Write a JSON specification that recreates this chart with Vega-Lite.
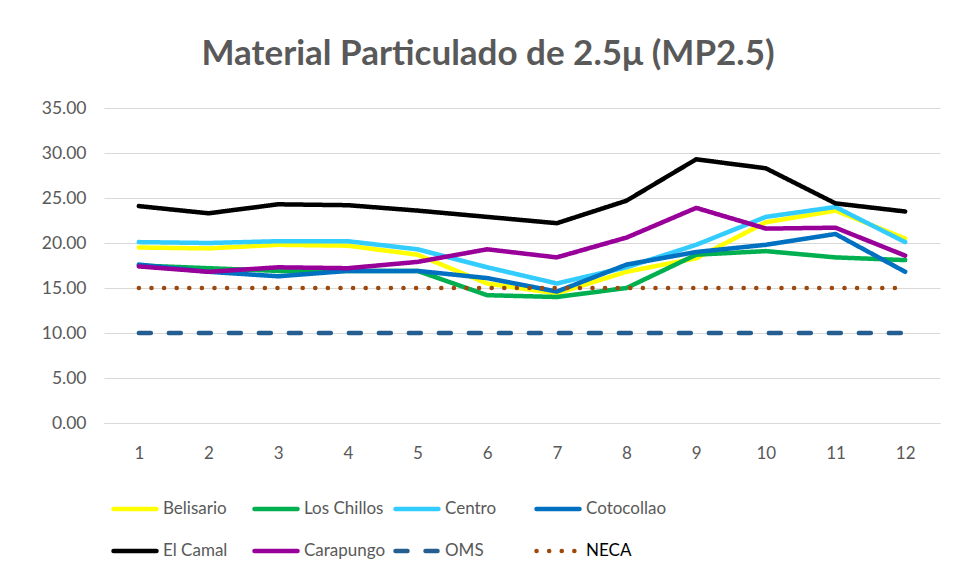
{
  "$schema": "https://vega.github.io/schema/vega-lite/v6.json",
  "autosize": {"type": "none"},
  "width": 836,
  "height": 315,
  "padding": {"left": 104, "top": 108, "right": 18, "bottom": 158},
  "background": "white",
  "title": {
    "text": "Material Particulado de 2.5μ  (MP2.5)",
    "font": "Lato",
    "fontSize": 35,
    "fontWeight": "bold",
    "color": "#595959",
    "anchor": "middle",
    "offset": 27,
    "dx": -34
  },
  "config": {"view": {"stroke": null}},
  "data": {
    "values": [
      {"mes": 1, "estacion": "Belisario", "valor": 19.5}, {"mes": 2, "estacion": "Belisario", "valor": 19.4}, {"mes": 3, "estacion": "Belisario", "valor": 19.8}, {"mes": 4, "estacion": "Belisario", "valor": 19.7}, {"mes": 5, "estacion": "Belisario", "valor": 18.7}, {"mes": 6, "estacion": "Belisario", "valor": 15.5}, {"mes": 7, "estacion": "Belisario", "valor": 14.4}, {"mes": 8, "estacion": "Belisario", "valor": 16.8}, {"mes": 9, "estacion": "Belisario", "valor": 18.3}, {"mes": 10, "estacion": "Belisario", "valor": 22.3}, {"mes": 11, "estacion": "Belisario", "valor": 23.6}, {"mes": 12, "estacion": "Belisario", "valor": 20.5},
      {"mes": 1, "estacion": "Los Chillos", "valor": 17.5}, {"mes": 2, "estacion": "Los Chillos", "valor": 17.2}, {"mes": 3, "estacion": "Los Chillos", "valor": 16.9}, {"mes": 4, "estacion": "Los Chillos", "valor": 16.9}, {"mes": 5, "estacion": "Los Chillos", "valor": 16.9}, {"mes": 6, "estacion": "Los Chillos", "valor": 14.2}, {"mes": 7, "estacion": "Los Chillos", "valor": 14.0}, {"mes": 8, "estacion": "Los Chillos", "valor": 15.0}, {"mes": 9, "estacion": "Los Chillos", "valor": 18.7}, {"mes": 10, "estacion": "Los Chillos", "valor": 19.1}, {"mes": 11, "estacion": "Los Chillos", "valor": 18.4}, {"mes": 12, "estacion": "Los Chillos", "valor": 18.1},
      {"mes": 1, "estacion": "Centro", "valor": 20.1}, {"mes": 2, "estacion": "Centro", "valor": 20.0}, {"mes": 3, "estacion": "Centro", "valor": 20.2}, {"mes": 4, "estacion": "Centro", "valor": 20.2}, {"mes": 5, "estacion": "Centro", "valor": 19.3}, {"mes": 6, "estacion": "Centro", "valor": 17.3}, {"mes": 7, "estacion": "Centro", "valor": 15.5}, {"mes": 8, "estacion": "Centro", "valor": 17.3}, {"mes": 9, "estacion": "Centro", "valor": 19.8}, {"mes": 10, "estacion": "Centro", "valor": 22.9}, {"mes": 11, "estacion": "Centro", "valor": 24.0}, {"mes": 12, "estacion": "Centro", "valor": 20.1},
      {"mes": 1, "estacion": "Cotocollao", "valor": 17.6}, {"mes": 2, "estacion": "Cotocollao", "valor": 16.8}, {"mes": 3, "estacion": "Cotocollao", "valor": 16.3}, {"mes": 4, "estacion": "Cotocollao", "valor": 16.9}, {"mes": 5, "estacion": "Cotocollao", "valor": 16.9}, {"mes": 6, "estacion": "Cotocollao", "valor": 16.1}, {"mes": 7, "estacion": "Cotocollao", "valor": 14.6}, {"mes": 8, "estacion": "Cotocollao", "valor": 17.6}, {"mes": 9, "estacion": "Cotocollao", "valor": 19.0}, {"mes": 10, "estacion": "Cotocollao", "valor": 19.8}, {"mes": 11, "estacion": "Cotocollao", "valor": 21.0}, {"mes": 12, "estacion": "Cotocollao", "valor": 16.8},
      {"mes": 1, "estacion": "El Camal", "valor": 24.1}, {"mes": 2, "estacion": "El Camal", "valor": 23.3}, {"mes": 3, "estacion": "El Camal", "valor": 24.3}, {"mes": 4, "estacion": "El Camal", "valor": 24.2}, {"mes": 5, "estacion": "El Camal", "valor": 23.6}, {"mes": 6, "estacion": "El Camal", "valor": 22.9}, {"mes": 7, "estacion": "El Camal", "valor": 22.2}, {"mes": 8, "estacion": "El Camal", "valor": 24.7}, {"mes": 9, "estacion": "El Camal", "valor": 29.3}, {"mes": 10, "estacion": "El Camal", "valor": 28.3}, {"mes": 11, "estacion": "El Camal", "valor": 24.4}, {"mes": 12, "estacion": "El Camal", "valor": 23.5},
      {"mes": 1, "estacion": "Carapungo", "valor": 17.4}, {"mes": 2, "estacion": "Carapungo", "valor": 16.8}, {"mes": 3, "estacion": "Carapungo", "valor": 17.3}, {"mes": 4, "estacion": "Carapungo", "valor": 17.2}, {"mes": 5, "estacion": "Carapungo", "valor": 17.9}, {"mes": 6, "estacion": "Carapungo", "valor": 19.3}, {"mes": 7, "estacion": "Carapungo", "valor": 18.4}, {"mes": 8, "estacion": "Carapungo", "valor": 20.6}, {"mes": 9, "estacion": "Carapungo", "valor": 23.9}, {"mes": 10, "estacion": "Carapungo", "valor": 21.6}, {"mes": 11, "estacion": "Carapungo", "valor": 21.7}, {"mes": 12, "estacion": "Carapungo", "valor": 18.6},
      {"mes": 1, "estacion": "OMS", "valor": 10}, {"mes": 2, "estacion": "OMS", "valor": 10}, {"mes": 3, "estacion": "OMS", "valor": 10}, {"mes": 4, "estacion": "OMS", "valor": 10}, {"mes": 5, "estacion": "OMS", "valor": 10}, {"mes": 6, "estacion": "OMS", "valor": 10}, {"mes": 7, "estacion": "OMS", "valor": 10}, {"mes": 8, "estacion": "OMS", "valor": 10}, {"mes": 9, "estacion": "OMS", "valor": 10}, {"mes": 10, "estacion": "OMS", "valor": 10}, {"mes": 11, "estacion": "OMS", "valor": 10}, {"mes": 12, "estacion": "OMS", "valor": 10},
      {"mes": 1, "estacion": "NECA", "valor": 15}, {"mes": 2, "estacion": "NECA", "valor": 15}, {"mes": 3, "estacion": "NECA", "valor": 15}, {"mes": 4, "estacion": "NECA", "valor": 15}, {"mes": 5, "estacion": "NECA", "valor": 15}, {"mes": 6, "estacion": "NECA", "valor": 15}, {"mes": 7, "estacion": "NECA", "valor": 15}, {"mes": 8, "estacion": "NECA", "valor": 15}, {"mes": 9, "estacion": "NECA", "valor": 15}, {"mes": 10, "estacion": "NECA", "valor": 15}, {"mes": 11, "estacion": "NECA", "valor": 15}, {"mes": 12, "estacion": "NECA", "valor": 15}
    ]
  },
  "mark": {"type": "line", "strokeWidth": 4.5, "strokeCap": "round", "strokeJoin": "round"},
  "encoding": {
    "x": {
      "field": "mes",
      "type": "ordinal",
      "axis": {
        "title": null,
        "labelAngle": 0,
        "labelFont": "Lato",
        "labelFontSize": 17,
        "labelColor": "#595959",
        "labelPadding": 22,
        "ticks": false,
        "domain": true,
        "domainColor": "#D9D9D9",
        "domainWidth": 1,
        "grid": false
      }
    },
    "y": {
      "field": "valor",
      "type": "quantitative",
      "scale": {"domain": [0, 35], "nice": false},
      "axis": {
        "title": null,
        "values": [0, 5, 10, 15, 20, 25, 30, 35],
        "format": ".2f",
        "labelFont": "Lato",
        "labelFontSize": 17.5,
        "labelColor": "#595959",
        "labelPadding": 18,
        "ticks": false,
        "domain": false,
        "grid": true,
        "gridColor": "#D9D9D9",
        "gridWidth": 1
      }
    },
    "color": {
      "field": "estacion",
      "type": "nominal",
      "sort": ["Belisario", "Los Chillos", "Centro", "Cotocollao", "El Camal", "Carapungo", "OMS", "NECA"],
      "scale": {
        "domain": ["Belisario", "Los Chillos", "Centro", "Cotocollao", "El Camal", "Carapungo", "OMS", "NECA"],
        "range": ["#FFFF00", "#00B050", "#33CCFF", "#0070C0", "#000000", "#990099", "#255E91", "#9E480E"]
      },
      "legend": {
        "title": null,
        "orient": "none",
        "direction": "horizontal",
        "legendX": 7,
        "legendY": 377,
        "columns": 4,
        "gridAlign": "all",
        "columnPadding": 0,
        "rowPadding": 9,
        "symbolType": "stroke",
        "symbolSize": 1849,
        "symbolStrokeWidth": 4.5,
        "labelFont": "Lato",
        "labelFontSize": 17,
        "labelColor": {"expr": "datum.label == 'NECA' ? '#000000' : '#595959'"},
        "labelOffset": 4,
        "encode": {"symbols": {"update": {"strokeCap": {"value": "round"}}}}
      }
    },
    "strokeDash": {
      "field": "estacion",
      "type": "nominal",
      "sort": ["Belisario", "Los Chillos", "Centro", "Cotocollao", "El Camal", "Carapungo", "OMS", "NECA"],
      "scale": {
        "domain": ["Belisario", "Los Chillos", "Centro", "Cotocollao", "El Camal", "Carapungo", "OMS", "NECA"],
        "range": [[1, 0], [1, 0], [1, 0], [1, 0], [1, 0], [1, 0], [12, 18], [0.1, 12.5]]
      },
      "legend": {
        "title": null,
        "orient": "none",
        "direction": "horizontal",
        "legendX": 7,
        "legendY": 377,
        "columns": 4,
        "gridAlign": "all",
        "columnPadding": 0,
        "rowPadding": 9,
        "symbolType": "stroke",
        "symbolSize": 1849,
        "symbolStrokeWidth": 4.5,
        "labelFont": "Lato",
        "labelFontSize": 17,
        "labelColor": {"expr": "datum.label == 'NECA' ? '#000000' : '#595959'"},
        "labelOffset": 4,
        "encode": {"symbols": {"update": {"strokeCap": {"value": "round"}}}}
      }
    }
  }
}
